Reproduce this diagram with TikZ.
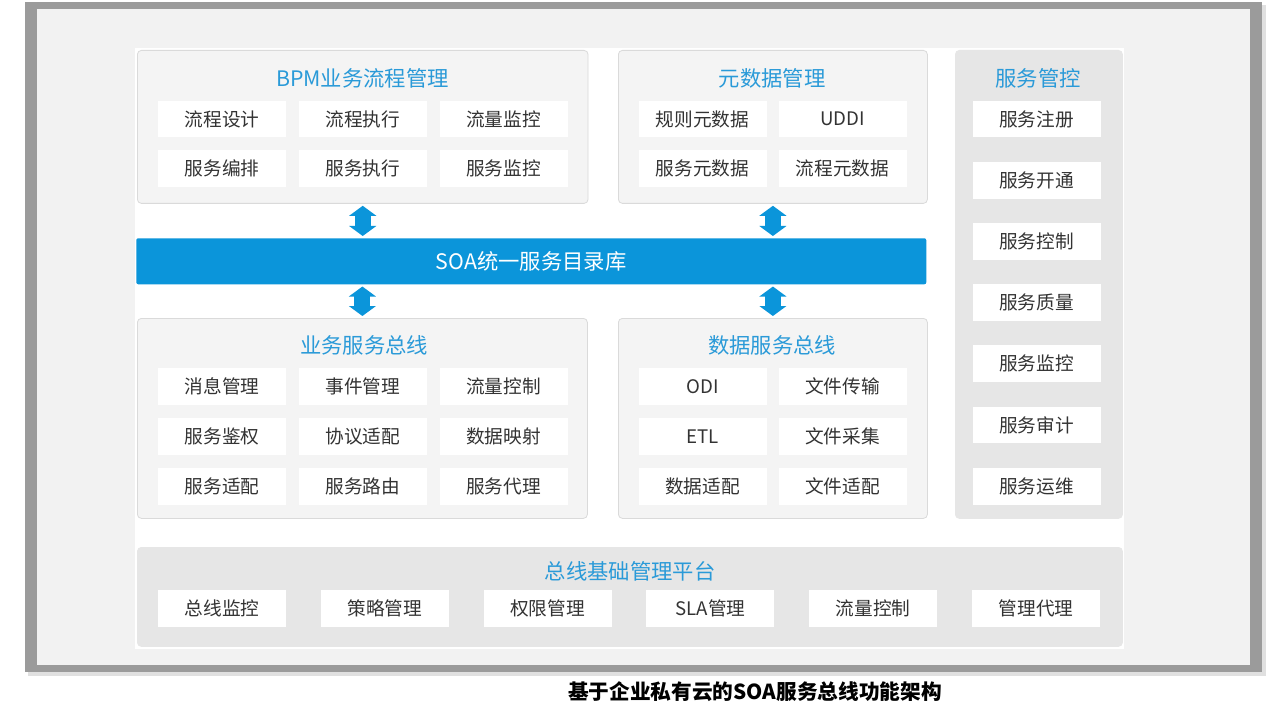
\documentclass[tikz,border=0pt]{standalone}
\usepackage{fontspec}
\setmainfont{Noto Sans CJK SC}
\usepackage{xcolor}
\definecolor{soaBlue}{HTML}{0B95DA}
\definecolor{soaTitle}{HTML}{2A9AD8}
\definecolor{soaText}{HTML}{333333}
\definecolor{soaPanel}{HTML}{F4F4F4}
\definecolor{soaPanelDark}{HTML}{E6E6E6}
\definecolor{soaBorder}{HTML}{DADADA}
\definecolor{soaFrame}{HTML}{9B9B9B}
\definecolor{soaBack}{HTML}{F2F2F2}
\usepackage{tikz}
\usetikzlibrary{arrows.meta,positioning}
\tikzset{
    panel/.style={
        draw=soaBorder,
        fill=soaPanel,
        rectangle,
        rounded corners=3pt,
        line width=0.6pt,
        anchor=north west,
        inner sep=0pt
    },
    darkpanel/.style={
        panel,
        draw=soaPanelDark,
        fill=soaPanelDark
    },
    title/.style={
        font=\fontsize{16}{18}\selectfont,
        text=soaTitle
    },
    cell/.style={
        fill=white,
        rectangle,
        minimum width=96pt,
        minimum height=27.5pt,
        inner sep=0pt,
        font=\fontsize{14}{16}\selectfont,
        text=soaText
    },
    bar/.style={
        fill=soaBlue,
        rectangle,
        rounded corners=1.5pt,
        anchor=north west,
        inner sep=0pt,
        text=white,
        font=\fontsize{16}{18}\selectfont
    },
    dblarrow/.style={
        {Triangle[width=20pt,length=7.5pt]}-{Triangle[width=20pt,length=7.5pt]},
        line width=12pt,
        color=soaBlue,
        shorten <=1.5pt,
        shorten >=1.5pt
    }
}

\begin{document}
\begin{tikzpicture}[x=0.75pt,y=-0.75pt]
    \useasboundingbox (0,0) rectangle (1280,720);
    % frame
    \fill[black!12] (28,5) rectangle (1266,676);
    \fill[soaFrame] (25,2) rectangle (1262,672);
    \fill[soaBack] (37,9) rectangle (1250,665);
    \fill[white] (135,48) rectangle (1124,649);

    % panels
    \node[panel, minimum width=338pt, minimum height=114.75pt] (bpm) at (137,50) {};
    \node[panel, minimum width=231.75pt, minimum height=114.75pt] (meta) at (618,50) {};
    \node[darkpanel, minimum width=125.25pt, minimum height=351pt] (ctrl) at (955,50) {};
    \node[panel, minimum width=337.5pt, minimum height=150pt] (biz) at (137,318) {};
    \node[panel, minimum width=231.75pt, minimum height=150pt] (data) at (618,318) {};
    \node[darkpanel, minimum width=738.75pt, minimum height=74.25pt] (base) at (137,547) {};
    \node[bar, minimum width=592.5pt, minimum height=34.5pt] (soa) at (136,238) {SOA统一服务目录库};

    % titles
    \node[title] (bpm-title) at (362.5,78) {BPM业务流程管理};
    \node[title] (meta-title) at (772,78) {元数据管理};
    \node[title] (ctrl-title) at (1038,78) {服务管控};
    \node[title] (biz-title) at (364,345) {业务服务总线};
    \node[title] (data-title) at (772,345) {数据服务总线};
    \node[title] (base-title) at (630,571) {总线基础管理平台};

    % cells
    \foreach \t [count=\i] in {流程设计,流程执行,流量监控}
        \node[cell] (bpm-a\i) at ({222+140.75*(\i-1)},119) {\t};
    \foreach \t [count=\i] in {服务编排,服务执行,服务监控}
        \node[cell] (bpm-b\i) at ({222+140.75*(\i-1)},168.5) {\t};
    \foreach \t [count=\i] in {规则元数据,UDDI}
        \node[cell] (meta-a\i) at ({702.5+140*(\i-1)},119) {\t};
    \foreach \t [count=\i] in {服务元数据,流程元数据}
        \node[cell] (meta-b\i) at ({702.5+140*(\i-1)},168.5) {\t};
    \foreach \t [count=\i] in {服务注册,服务开通,服务控制,服务质量,服务监控,服务审计,服务运维}
        \node[cell] (ctrl-\i) at (1036.5,{119+61.2*(\i-1)}) {\t};
    \foreach \t [count=\i] in {消息管理,事件管理,流量控制}
        \node[cell] (biz-a\i) at ({222+140.75*(\i-1)},386.5) {\t};
    \foreach \t [count=\i] in {服务鉴权,协议适配,数据映射}
        \node[cell] (biz-b\i) at ({222+140.75*(\i-1)},436.5) {\t};
    \foreach \t [count=\i] in {服务适配,服务路由,服务代理}
        \node[cell] (biz-c\i) at ({222+140.75*(\i-1)},486.5) {\t};
    \foreach \t [count=\i] in {ODI,文件传输}
        \node[cell] (data-a\i) at ({702.5+140*(\i-1)},386.5) {\t};
    \foreach \t [count=\i] in {ETL,文件采集}
        \node[cell] (data-b\i) at ({702.5+140*(\i-1)},436.5) {\t};
    \foreach \t [count=\i] in {数据适配,文件适配}
        \node[cell] (data-c\i) at ({702.5+140*(\i-1)},486.5) {\t};
    \foreach \t [count=\i] in {总线监控,策略管理,权限管理,SLA管理,流量控制,管理代理}
        \node[cell] (base-\i) at ({222+162.8*(\i-1)},608.5) {\t};

    % arrows
    \draw[dblarrow] (bpm.south) -- (bpm.south |- soa.north);
    \draw[dblarrow] (meta.south) -- (meta.south |- soa.north);
    \draw[dblarrow] (soa.south -| biz.north) -- (biz.north);
    \draw[dblarrow] (soa.south -| data.north) -- (data.north);

    % caption
    \node[font=\bfseries\fontsize{15.5}{18}\selectfont] (caption) at (755,692) {基于企业私有云的SOA服务总线功能架构};
\end{tikzpicture}
\end{document}
